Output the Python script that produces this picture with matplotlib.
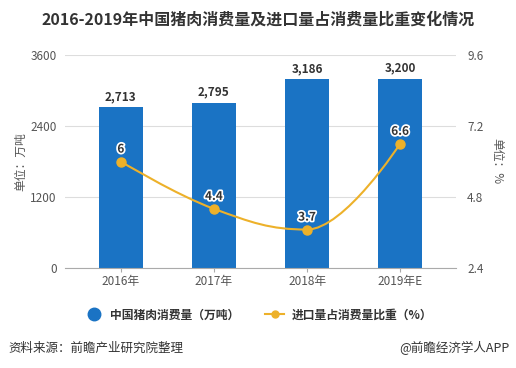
import numpy as np
import matplotlib
matplotlib.use('Agg')
import matplotlib.pyplot as plt
from matplotlib.path import Path
from matplotlib.patches import PathPatch
from matplotlib.lines import Line2D
import matplotlib.patheffects as pe

plt.rcParams['font.family'] = ['Noto Sans CJK SC', 'DejaVu Sans']

years = ['2016年', '2017年', '2018年', '2019年E']
consumption = [2713, 2795, 3186, 3200]
import_share = [6, 4.4, 3.7, 6.6]
left_ticks = [0, 1200, 2400, 3600]
right_ticks = [2.4, 4.8, 7.2, 9.6]

BLUE = '#1A73C4'
GOLD = '#EDB12A'
TEXT = '#333333'
TICK = '#555555'


def spline_path(xs, ys, smoothing=1.5):
    # highcharts-like spline: bezier control points from neighbours
    n = len(xs)
    left = [None] * n
    right = [None] * n
    for i in range(1, n - 1):
        px, py = xs[i], ys[i]
        lx, ly = xs[i - 1], ys[i - 1]
        nx, ny = xs[i + 1], ys[i + 1]
        d = smoothing + 1
        lcx, lcy = (smoothing * px + lx) / d, (smoothing * py + ly) / d
        rcx, rcy = (smoothing * px + nx) / d, (smoothing * py + ny) / d
        corr = (rcy - lcy) * (rcx - px) / (rcx - lcx) + py - rcy
        lcy += corr
        rcy += corr
        if lcy > ly and lcy > py:
            lcy = max(ly, py); rcy = 2 * py - lcy
        elif lcy < ly and lcy < py:
            lcy = min(ly, py); rcy = 2 * py - lcy
        if rcy > ny and rcy > py:
            rcy = max(ny, py); lcy = 2 * py - rcy
        elif rcy < ny and rcy < py:
            rcy = min(ny, py); lcy = 2 * py - rcy
        left[i] = (lcx, lcy)
        right[i] = (rcx, rcy)
    verts = [(xs[0], ys[0])]
    codes = [Path.MOVETO]
    for i in range(1, n):
        c1 = right[i - 1] or (xs[i - 1], ys[i - 1])
        c2 = left[i] or (xs[i], ys[i])
        verts += [c1, c2, (xs[i], ys[i])]
        codes += [Path.CURVE4] * 3
    return Path(verts, codes)


fig = plt.figure(figsize=(5.16, 3.68), dpi=100)
ax = fig.add_axes([65 / 516, 1 - 268 / 368, 391 / 516, 213 / 368])
ax2 = ax.twinx()

x = np.arange(len(years))
bars = ax.bar(x, consumption, width=0.475, color=BLUE, zorder=2)
for xi, v in zip(x, consumption):
    ax.text(xi, v + 70, '{:,}'.format(v), ha='center', va='bottom',
            fontsize=8.5, fontweight='bold', color=TEXT)

ax.set_xlim(-0.6, len(years) - 0.4)
ax.set_ylim(0, 3600)
ax.set_yticks(left_ticks)
ax.set_xticks(x)
ax.set_xticklabels(years)
ax.grid(axis='y', color='#DDDDDD', linewidth=0.8, zorder=0)
ax.set_axisbelow(True)
for s in ['top', 'right', 'left']:
    ax.spines[s].set_visible(False)
ax.spines['bottom'].set_color('#AAAAAA')
ax.tick_params(axis='y', length=0, labelsize=8.5, labelcolor=TICK, pad=6)
ax.tick_params(axis='x', length=3, color='#AAAAAA', labelsize=8.5, labelcolor=TICK, pad=2)
ax.set_ylabel('单位：万吨', fontsize=8.5, color=TICK, labelpad=2)

ax2.set_ylim(2.4, 9.6)
ax2.set_yticks(right_ticks)
ax2.set_yticklabels(['{:.1f}'.format(t) for t in right_ticks])
for s in ax2.spines.values():
    s.set_visible(False)
ax2.tick_params(axis='y', length=0, labelsize=8.5, labelcolor=TICK, pad=8)
ax2.set_ylabel('单位：%', fontsize=8.5, color=TICK, rotation=-90, labelpad=14)

ax2.add_patch(PathPatch(spline_path(list(x), import_share), facecolor='none',
                        edgecolor=GOLD, linewidth=1.5, zorder=3))
ax2.plot(x, import_share, 'o', color=GOLD, markersize=6.5, zorder=4)
for xi, v in zip(x, import_share):
    ax2.text(xi, v + 0.2, '{:g}'.format(v), ha='center', va='bottom',
             fontsize=8.5, fontweight='bold', color=TEXT, zorder=5,
             path_effects=[pe.withStroke(linewidth=2.5, foreground='white')])

fig.text(0.5, 1 - 20 / 368, '2016-2019年中国猪肉消费量及进口量占消费量比重变化情况',
         ha='center', va='center', fontsize=11.5, fontweight='bold', color=TEXT)

handles = [
    Line2D([], [], marker='o', linestyle='none', color=BLUE, markersize=9),
    Line2D([], [], marker='o', color=GOLD, markersize=5, linewidth=1.5),
]
fig.legend(handles, ['中国猪肉消费量（万吨）', '进口量占消费量比重（%）'],
           loc='center', bbox_to_anchor=(0.5, 1 - 315 / 368), ncol=2,
           frameon=False, prop={'size': 8.5, 'weight': 'bold'},
           handlelength=1.6, columnspacing=2.2, handletextpad=0.6, labelcolor=TEXT)

fig.text(8 / 516, 1 - 348 / 368, '资料来源：前瞻产业研究院整理', ha='left', va='center',
         fontsize=9, color=TEXT)
fig.text(510 / 516, 1 - 348 / 368, '@前瞻经济学人APP', ha='right', va='center',
         fontsize=9, color=TEXT)

fig.savefig('out.png', dpi=100)
